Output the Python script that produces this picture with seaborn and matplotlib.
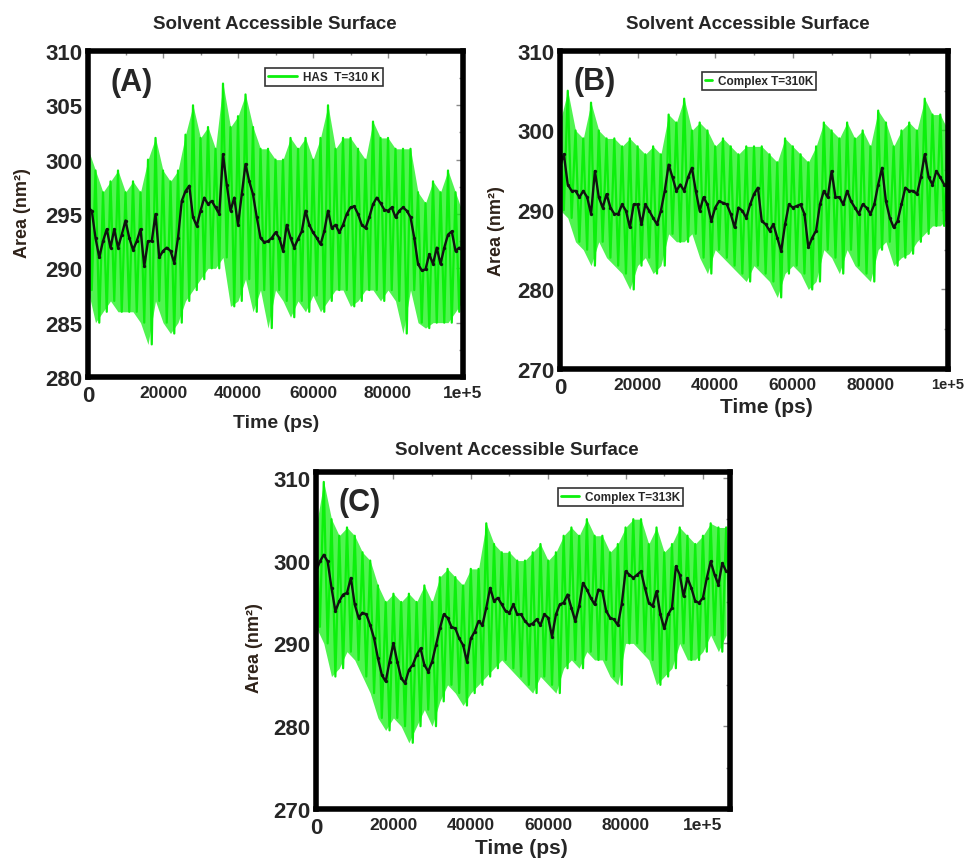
import pandas as pd
import seaborn as sns
import matplotlib.pyplot as plt
from matplotlib.ticker import MultipleLocator

# ---------------------------------------------------------------------------
# values (ps / nm^2)
# black = running average every 1000 ps, green = spike tops / bottoms every 2000 ps
# ---------------------------------------------------------------------------
a_black = [295.6, 295.3, 292.8, 291.0, 292.5, 293.6, 291.9, 293.6, 291.9, 293.1,
           294.4, 292.8, 291.7, 292.5, 293.6, 290.2, 292.5, 292.5, 295.0, 291.0,
           291.6, 291.9, 291.6, 290.5, 292.8, 296.2, 297.1, 297.6, 294.7, 293.9,
           295.3, 296.5, 295.9, 296.2, 295.6, 295.0, 300.5, 297.7, 295.3, 296.5,
           294.0, 296.8, 299.6, 298.0, 296.8, 294.7, 292.8, 292.4, 292.5, 292.8,
           293.3, 292.8, 291.6, 294.0, 292.8, 291.9, 292.7, 293.4, 295.3, 294.0,
           293.3, 292.8, 292.2, 293.4, 295.3, 293.7, 294.0, 293.3, 294.0, 295.0,
           295.6, 295.7, 295.0, 294.0, 293.7, 294.7, 295.9, 296.5, 296.0, 295.4,
           295.3, 295.6, 294.7, 295.3, 295.6, 295.3, 294.7, 292.8, 290.4, 289.8,
           289.9, 291.3, 290.4, 291.9, 290.4, 291.9, 293.1, 293.4, 291.6, 291.9,
           291.6]
a_hi = [301, 299, 297, 298, 299, 297, 298, 297, 300, 302,
        299, 298, 299, 302.3, 305, 302, 303, 301, 307, 303,
        304, 306, 303, 301, 301, 300,
        300, 302, 301, 302, 300, 302, 305, 301, 302, 302,
        301, 300, 303.5, 302, 302, 301, 301, 301, 297, 296,
        298, 297, 299, 297, 295]
a_lo = [288, 285, 286, 287, 286, 286, 286, 285, 283, 287,
        285, 284, 285, 287, 288, 289, 290, 290, 291, 286.5,
        287, 289, 286, 288, 284.5, 288,
        287, 285.5, 287, 286, 287.5, 286, 287, 288, 288, 286.5,
        287, 288, 288, 287, 288, 287, 284, 288, 285, 284.5,
        285, 285, 285, 286, 287]

b_black = [295.5, 297.0, 293.2, 292.4, 292.4, 291.6, 292.4, 291.6, 289.5, 294.9,
           291.6, 290.3, 292.0, 290.3, 289.5, 289.5, 290.7, 289.9, 287.8, 290.7,
           290.7, 288.2, 290.7, 289.9, 289.0, 288.2, 289.9, 292.4, 295.7, 294.1,
           292.4, 293.2, 292.4, 294.1, 295.3, 292.4, 289.9, 291.6, 290.7, 288.6,
           290.3, 291.1, 290.9, 290.7, 289.5, 287.8, 290.3, 289.9, 289.0, 290.7,
           292.0, 292.8, 288.6, 288.2, 287.4, 288.2, 286.5, 284.8, 288.2, 290.7,
           290.3, 290.5, 290.7, 289.5, 285.3, 286.5, 287.4, 290.7, 292.4, 291.6,
           294.9, 291.6, 291.6, 290.7, 292.4, 291.1, 290.3, 289.5, 290.7, 290.3,
           289.5, 290.7, 293.2, 295.3, 291.1, 289.0, 287.8, 288.6, 290.7, 292.8,
           292.4, 292.4, 292.0, 294.1, 297.0, 294.1, 293.2, 294.9, 294.1, 293.2,
           293.2]
b_hi = [301, 305, 300, 299, 303.5, 300, 299, 299, 298, 299,
        298, 297, 298, 297, 302, 301, 304, 300, 301, 300,
        298, 299, 298, 297, 298, 298,
        298, 297, 296, 299, 298, 297, 296, 298, 301, 300,
        299, 301, 299, 300, 298, 302.5, 301, 298, 300, 301,
        300, 304, 302, 302, 300]
b_lo = [290, 289, 286, 285, 283, 286, 284, 283, 282, 280,
        283, 284, 282, 283, 287, 286, 286, 287, 284, 282,
        285, 284, 283, 282, 281, 283,
        282, 281, 279, 282, 283, 282, 280, 281, 285, 284,
        282, 285, 283, 282, 281, 285, 286, 283, 284, 284.5,
        286, 287, 288, 288, 289]

c_black = [298.7, 299.9, 300.7, 299.9, 296.7, 293.9, 295.1, 295.9, 296.1, 297.9,
           294.7, 293.1, 293.7, 293.5, 292.2, 290.6, 288.2, 286.2, 285.4, 287.8,
           290.0, 287.8, 285.8, 285.2, 286.8, 287.4, 288.6, 289.4, 287.4, 286.6,
           287.8, 289.8, 291.8, 293.5, 293.1, 292.0, 291.8, 290.6, 289.8, 287.8,
           290.6, 291.4, 292.7, 292.2, 294.3, 296.7, 295.1, 295.5, 294.7, 293.9,
           293.7, 294.7, 293.5, 293.5, 292.7, 292.2, 292.4, 292.9, 292.2, 293.5,
           293.1, 290.8, 293.5, 294.7, 294.9, 295.9, 294.3, 292.7, 294.5, 297.3,
           296.5, 295.5, 294.7, 296.5, 296.3, 293.9, 293.1, 292.9, 292.2, 294.7,
           298.7, 298.3, 297.9, 298.3, 298.7, 296.7, 294.9, 294.5, 296.3, 293.5,
           291.8, 293.5, 294.3, 299.3, 298.3, 295.7, 297.9, 296.7, 295.1, 294.9,
           295.5, 297.9, 299.9, 298.3, 297.1, 299.7, 298.7]
c_hi = [304, 309.5, 305, 303, 304, 303, 301, 300, 297, 295,
        296, 295, 296, 295, 297, 295, 298, 299, 298, 297,
        299, 299, 304.5, 302, 301, 301, 300,
        300, 301, 302, 300, 301, 303, 304, 303, 305, 303,
        303, 301, 302, 304, 305, 305, 302, 304, 301, 302,
        304, 303, 302, 303, 304.5, 304, 304]
c_lo = [292, 290, 286, 287, 289, 288, 286, 284, 281, 279.5,
        281, 280, 278, 280, 282, 280, 283, 285, 284, 282.5,
        284, 285, 286, 287, 288, 287, 286,
        285, 284, 286, 285, 284, 287, 288, 287, 289, 288,
        288, 286, 285, 290, 290, 289, 288, 285, 286, 287,
        290, 288, 288, 289, 291, 289, 291]

x_ticks = [0, 20000, 40000, 60000, 80000, 100000]
x_tick_labels = ["0", "20000", "40000", "60000", "80000", "1e+5"]

GREEN = "#0cf00c"


def build_frames(black, hi, lo):
    df_black = pd.DataFrame({"time": [i * 1000 for i in range(len(black))], "area": black})
    rows = []
    for i, (h, l) in enumerate(zip(hi, lo)):
        rows.append((i * 2000, h))
        rows.append((i * 2000 + 1000, l))
    df_green = pd.DataFrame(rows, columns=["time", "area"])
    df_env = pd.DataFrame({"time": [i * 2000 for i in range(len(hi))], "hi": hi, "lo": lo})
    return df_black, df_green, df_env


def draw_panel(ax, black, hi, lo, tag, label, ylim, ymajor, yminor, xmax,
               leg_anchor, handlelength, tag_pos):
    df_black, df_green, df_env = build_frames(black, hi, lo)

    ax.fill_between(df_env["time"], df_env["lo"], df_env["hi"], color=GREEN, alpha=0.72, lw=0)
    sns.lineplot(data=df_green, x="time", y="area", ax=ax, color=GREEN, lw=1.6, label=label)
    sns.lineplot(data=df_black, x="time", y="area", ax=ax, color="#111111", lw=1.7,
                 marker="o", markersize=2.4, markeredgewidth=0, legend=False)

    ax.set_xlim(0, xmax)
    ax.set_ylim(*ylim)
    ax.set_xlabel("")
    ax.set_ylabel("")
    ax.set_xticks(x_ticks, x_tick_labels)
    ax.xaxis.set_minor_locator(MultipleLocator(10000))
    ax.yaxis.set_major_locator(MultipleLocator(ymajor))
    ax.yaxis.set_minor_locator(MultipleLocator(yminor))
    ax.tick_params(which="both", direction="in", top=True, right=True, color="#8a8a8a", width=1)
    ax.tick_params(which="major", length=5)
    ax.tick_params(which="minor", length=3)
    ax.tick_params(axis="x", labelsize=12.5, pad=6)
    ax.tick_params(axis="y", labelsize=16, pad=4)
    for lbl in ax.get_xticklabels() + ax.get_yticklabels():
        lbl.set_fontweight("bold")
    ax.get_xticklabels()[0].set_fontsize(16)

    for spine in ax.spines.values():
        spine.set_linewidth(4)
        spine.set_color("black")

    ax.text(tag_pos[0], tag_pos[1], tag, transform=ax.transAxes, fontsize=22,
            fontweight="bold", va="center", ha="left")

    leg = ax.legend(loc="upper left", bbox_to_anchor=leg_anchor, borderaxespad=0,
                    fancybox=False, frameon=True, handlelength=handlelength,
                    handletextpad=0.5, borderpad=0.25,
                    prop={"weight": "bold", "size": 8.5})
    leg.get_frame().set_edgecolor("black")
    leg.get_frame().set_linewidth(1.2)
    leg.get_lines()[0].set_linewidth(2)


sns.set_theme(style="white")
plt.rcParams["font.family"] = ["Liberation Sans", "DejaVu Sans"]

fig = plt.figure(figsize=(9.65, 8.62), dpi=100)
ax_a = fig.add_axes([0.0912, 0.5615, 0.3886, 0.3782])
ax_b = fig.add_axes([0.5803, 0.5708, 0.4021, 0.3689])
ax_c = fig.add_axes([0.3275, 0.0603, 0.4290, 0.3910])

draw_panel(ax_a, a_black, a_hi, a_lo, "(A)", "HAS  T=310 K", (280, 310), 5, 2.5, 100000,
           (0.472, 0.948), 2.5, (0.06, 0.905))
draw_panel(ax_b, b_black, b_hi, b_lo, "(B)", "Complex T=310K", (270, 310), 10, 5, 100000,
           (0.366, 0.934), 0.6, (0.035, 0.905))
draw_panel(ax_c, c_black, c_hi, c_lo, "(C)", "Complex T=313K", (270, 310.7), 10, 5, 107000,
           (0.585, 0.953), 1.5, (0.055, 0.911))

# panel B: the last label sits against the right edge of the picture
ax_b.get_xticklabels()[-1].set_fontsize(10.5)

title = "Solvent Accessible Surface"
fig.text(0.285, 0.971, title, ha="center", va="center", fontsize=13.5, fontweight="bold")
fig.text(0.775, 0.971, title, ha="center", va="center", fontsize=13.5, fontweight="bold")
fig.text(0.536, 0.477, title, ha="center", va="center", fontsize=13.5, fontweight="bold")

fig.text(0.286, 0.509, "Time (ps)", ha="center", va="center", fontsize=14, fontweight="bold")
fig.text(0.794, 0.527, "Time (ps)", ha="center", va="center", fontsize=15, fontweight="bold")
fig.text(0.540, 0.016, "Time (ps)", ha="center", va="center", fontsize=15, fontweight="bold")

ylab_color = "#2e2219"
fig.text(0.0228, 0.753, "Area (nm\u00b2)", rotation=90, ha="center", va="center",
         fontsize=13, fontweight="bold", color=ylab_color)
fig.text(0.515, 0.732, "Area (nm\u00b2)", rotation=90, ha="center", va="center",
         fontsize=13, fontweight="bold", color=ylab_color)
fig.text(0.264, 0.248, "Area (nm\u00b2)", rotation=90, ha="center", va="center",
         fontsize=13, fontweight="bold", color=ylab_color)

plt.savefig("out.png", dpi=100)
